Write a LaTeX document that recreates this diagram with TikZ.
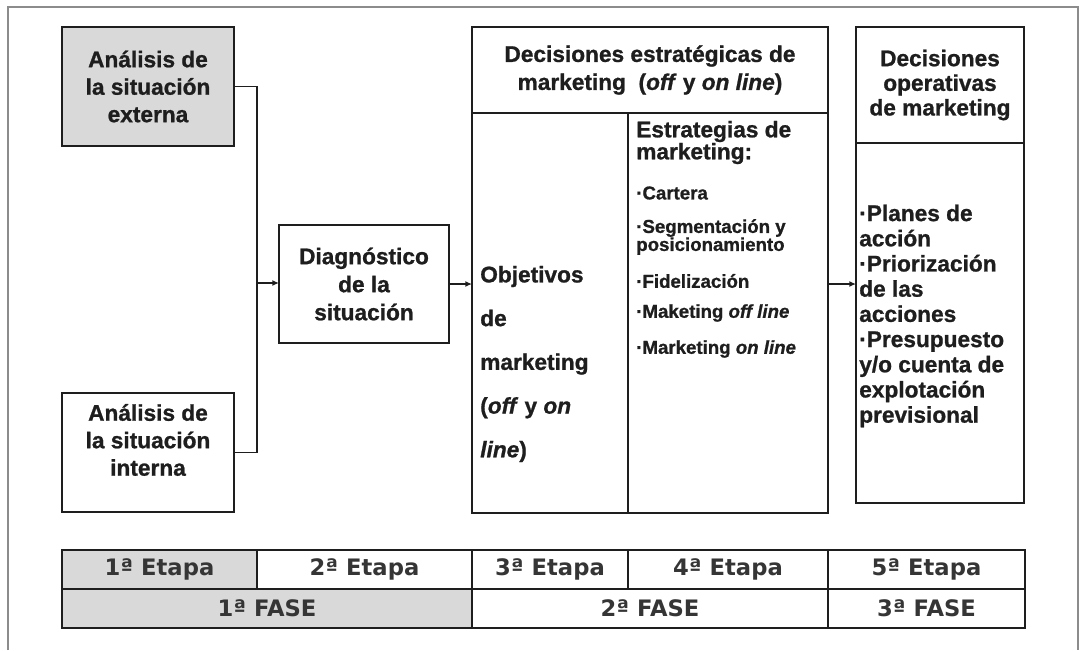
\documentclass[tikz,border=0pt]{standalone}
\usepackage{fontspec}
\setmainfont{Liberation Sans}[BoldFeatures={FakeBold=1}, BoldItalicFeatures={FakeBold=1}]
\newfontfamily\tabfont{DejaVu Sans}
\usetikzlibrary{arrows.meta}
\definecolor{ink}{HTML}{1E1E1E}
\definecolor{boxgray}{HTML}{D9D9D9}
\definecolor{framegray}{HTML}{8C8C8C}
\begin{document}
\begin{tikzpicture}[x=0.75pt,y=-0.75pt,
  box/.style={draw=ink, line width=2.2pt, inner sep=0pt, outer sep=0pt},
  graybox/.style={box, fill=boxgray},
  txt/.style={text=ink, align=center, inner sep=0pt},
  big/.style={font=\fontsize{17}{#1}\selectfont\bfseries},
  small/.style={font=\fontsize{14}{#1}\selectfont\bfseries},
  tab/.style={box, minimum height=29.25pt, text=ink!90, font=\tabfont\fontsize{17}{20}\selectfont\bfseries},
  conn/.style={draw=ink, line width=1.4pt},
  arr/.style={conn, -{Latex[length=5pt,width=4.5pt]}},
  frame/.style={draw=framegray, line width=1.5pt}
]
\useasboundingbox (0,0) rectangle (1082,650);
\draw[frame] (8,650) -- (8,7) -- (1078,7) -- (1078,650);

% left boxes
\node[graybox, minimum width=129pt, minimum height=89.25pt, txt, big=20.6pt] (ext) at (148,86.5) {Análisis de\\la situación\\externa};
\node[box, minimum width=129pt, minimum height=89.25pt] (int) at (148,452.5) {};
\node[txt, big=20.6pt] (intt) at (148,440) {Análisis de\\la situación\\interna};

% diagnosis
\node[box, minimum width=127.5pt, minimum height=88.5pt, txt, big=21pt] (diag) at (364,284) {Diagnóstico\\de la\\situación};

% strategic decisions
\node[box, minimum width=267pt, minimum height=64.5pt, txt, big=21pt] (sh) at (650,70) {Decisiones estratégicas de\\marketing\ \ (\textit{off} y \textit{on line})};
\node[box, minimum width=117pt, minimum height=300pt] (obj) at (550,313) {};
\node[box, minimum width=150pt, minimum height=300pt] (str) at (728,313) {};
\node[txt, align=left, anchor=west, big=32.8pt] (objt) at (480,364) {Objetivos\\de\\marketing\\(\textit{off} y \textit{on}\\\textit{line})};
\node[txt, align=left, anchor=west, big=16.5pt] (strh) at (636,142.5) {Estrategias de\\marketing:};
\node[txt, align=left, anchor=west, small=16pt] (s1) at (636,193) {·Cartera};
\node[txt, align=left, anchor=west, small=13.5pt] (s2) at (636,237) {·Segmentación y\\posicionamiento};
\node[txt, align=left, anchor=west, small=16pt] (s3) at (636,281) {·Fidelización};
\node[txt, align=left, anchor=west, small=16pt] (s4) at (636,313) {·Maketing \textit{off line}};
\node[txt, align=left, anchor=west, small=16pt] (s5) at (636,349) {·Marketing \textit{on line}};

% operative decisions
\node[box, minimum width=126pt, minimum height=87pt, txt, big=18.5pt] (oh) at (940,85) {Decisiones\\operativas\\de marketing};
\node[box, minimum width=126pt, minimum height=270pt] (ob) at (940,323) {};
\node[txt, align=left, anchor=west, big=18.9pt] (obt) at (859,316) {·Planes de\\acción\\·Priorización\\de las\\acciones\\·Presupuesto\\y/o cuenta de\\explotación\\previsional};

% connectors
\coordinate (J) at (257,283);
\draw[conn] (ext.east) -| (J) |- (int.east);
\draw[arr] (J) -- (J -| diag.west);
\draw[arr] (diag.east) -- (diag.east -| obj.west);
\draw[arr] (diag.east -| str.east) -- (diag.east -| ob.west);

% bottom table
\node[tab, fill=boxgray, minimum width=146.25pt] (e1) at (159.5,569.5) {1ª Etapa};
\node[tab, minimum width=161.25pt] (e2) at (364.5,569.5) {2ª Etapa};
\node[tab, minimum width=117pt] (e3) at (550,569.5) {3ª Etapa};
\node[tab, minimum width=150pt] (e4) at (728,569.5) {4ª Etapa};
\node[tab, minimum width=147.75pt] (e5) at (926.5,569.5) {5ª Etapa};
\node[tab, fill=boxgray, minimum width=307.5pt] (f1) at (267,608.5) {1ª FASE};
\node[tab, minimum width=267pt] (f2) at (650,608.5) {2ª FASE};
\node[tab, minimum width=147.75pt] (f3) at (926.5,608.5) {3ª FASE};
\end{tikzpicture}
\end{document}
